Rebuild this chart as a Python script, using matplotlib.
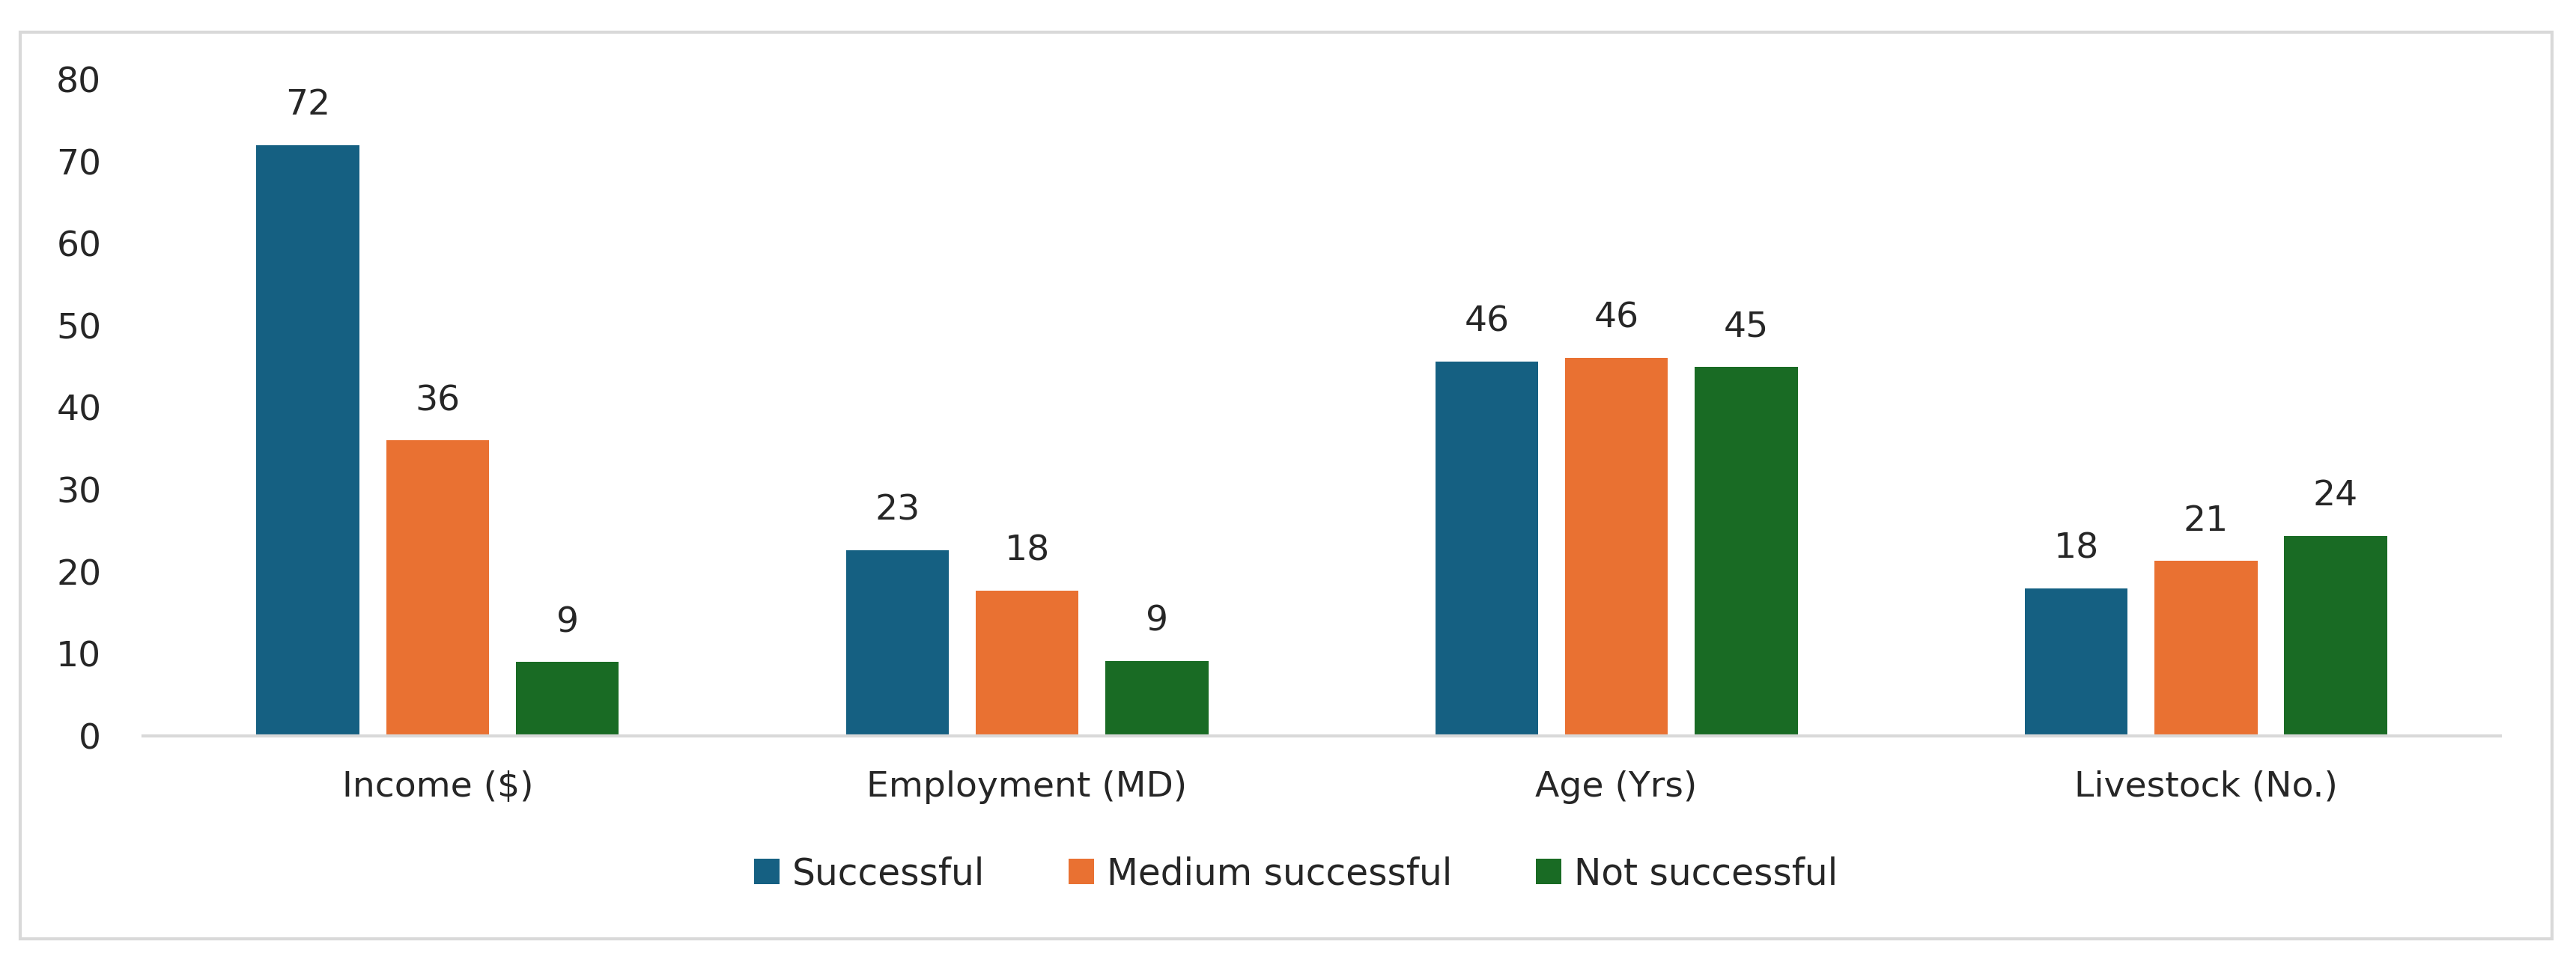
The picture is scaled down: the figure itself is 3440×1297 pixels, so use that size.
import numpy as np
import matplotlib
matplotlib.use("Agg")
import matplotlib.pyplot as plt
from matplotlib.patches import Rectangle

## data
categories = ['Income ($)', 'Employment (MD)', 'Age (Yrs)', 'Livestock (No.)']
series_names = ['Successful', 'Medium successful', 'Not successful']
successful = [72, 22.6, 45.6, 18.0]
medium_successful = [36, 17.7, 46.1, 21.3]
not_successful = [9, 9.1, 45.0, 24.4]
y_ticks = [0, 10, 20, 30, 40, 50, 60, 70, 80]

series_values = [successful, medium_successful, not_successful]
colors = ['#156082', '#E97132', '#196B24']

plt.rcParams['font.family'] = ['DejaVu Sans']
text_color = '#262626'
fsize = 34

fig = plt.figure(figsize=(34.4, 12.97), dpi=100)
ax = fig.add_axes([0.0555, 0.2421, 0.9707 - 0.0555, 0.9183 - 0.2421])

## outer chart frame
frame = Rectangle((0.0078, 0.033), 0.9907 - 0.0078, 0.967 - 0.033,
                  transform=fig.transFigure, fill=False, edgecolor='#d9d9d9', lw=3)
fig.patches.append(frame)

x = np.arange(len(categories))
bar_w = 0.175
step = 0.22
for i, (name, vals) in enumerate(zip(series_names, series_values)):
    pos = x + (i - 1) * step
    bars = ax.bar(pos, vals, width=bar_w, color=colors[i], label=name, zorder=2)
    for b, v in zip(bars, vals):
        ax.annotate(f"{v:.0f}", (b.get_x() + b.get_width() / 2, v),
                    xytext=(0, 29), textcoords='offset points',
                    ha='center', va='baseline', fontsize=fsize, color=text_color)

ax.set_xlim(-0.5, len(categories) - 0.5)
ax.set_ylim(0, 80)
ax.set_yticks(y_ticks)
ax.set_xticks(x)
ax.set_xticklabels(categories)

for side in ['top', 'right', 'left']:
    ax.spines[side].set_visible(False)
ax.spines['bottom'].set_color('#d9d9d9')
ax.spines['bottom'].set_linewidth(3)
ax.spines['bottom'].set_zorder(3)

ax.tick_params(axis='y', length=0, pad=40, labelsize=fsize, labelcolor=text_color)
ax.tick_params(axis='x', length=0, pad=33, labelsize=fsize, labelcolor=text_color)

fig.legend(loc='center', bbox_to_anchor=(0.503, 0.100), ncol=3, frameon=False,
           fontsize=35, handlelength=0.7, handleheight=0.7,
           handletextpad=0.35, columnspacing=2.3, labelcolor=text_color)

fig.savefig('out.png', dpi=100, facecolor='white')
